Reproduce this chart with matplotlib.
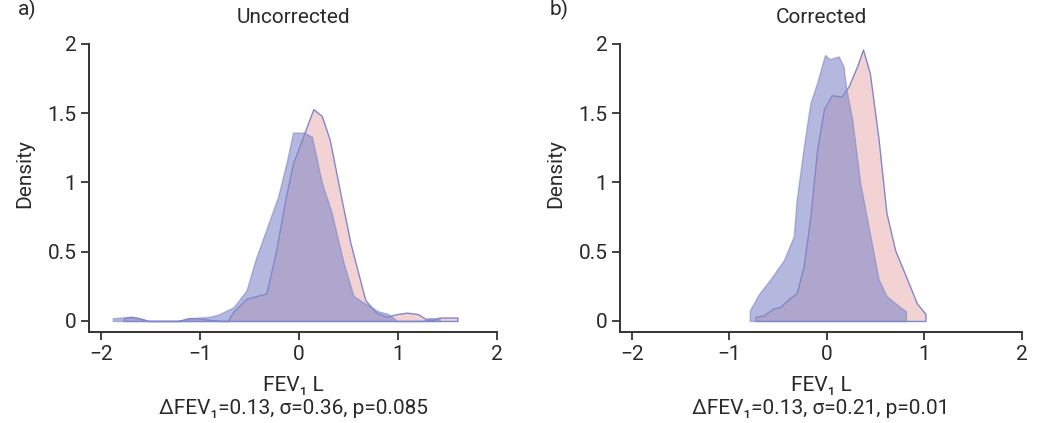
import matplotlib.pyplot as plt

# density curves (x in L, density)
unc_blue_x = [-1.88, -1.78, -1.68, -1.58, -1.52, -1.20, -1.10, -1.00, -0.90, -0.80, -0.66, -0.53,
              -0.44, -0.33, -0.21, -0.12, -0.06, 0.05, 0.13, 0.23, 0.33, 0.45, 0.55, 0.68, 0.80,
              0.90, 0.99, 1.25, 1.30, 1.42]
unc_blue_y = [0.02, 0.025, 0.03, 0.015, 0.0, 0.0, 0.02, 0.025, 0.03, 0.05, 0.10, 0.22,
              0.44, 0.66, 0.90, 1.16, 1.36, 1.36, 1.33, 1.00, 0.78, 0.42, 0.18, 0.12, 0.07,
              0.05, 0.0, 0.0, 0.02, 0.02]
unc_pink_x = [-1.77, -1.70, -1.62, -1.52, -1.22, -1.12, -1.02, -0.92, -0.80, -0.72, -0.66, -0.53,
              -0.33, -0.23, -0.14, -0.06, 0.03, 0.145, 0.23, 0.31, 0.41, 0.52, 0.67, 0.78, 0.88,
              0.99, 1.09, 1.20, 1.29, 1.36, 1.42, 1.50, 1.60]
unc_pink_y = [0.02, 0.03, 0.02, 0.0, 0.0, 0.02, 0.02, 0.01, 0.0, 0.0, 0.07, 0.16,
              0.20, 0.51, 0.87, 1.14, 1.31, 1.53, 1.48, 1.31, 0.95, 0.56, 0.15, 0.06, 0.03,
              0.05, 0.06, 0.05, 0.01, 0.01, 0.025, 0.025, 0.025]

cor_blue_x = [-0.79, -0.70, -0.58, -0.44, -0.34, -0.31, -0.24, -0.17, -0.10, -0.02, 0.03, 0.12,
              0.17, 0.20, 0.26, 0.34, 0.44, 0.53, 0.61, 0.75, 0.81]
cor_blue_y = [0.075, 0.19, 0.30, 0.44, 0.61, 0.87, 1.24, 1.57, 1.72, 1.92, 1.89, 1.91,
              1.84, 1.67, 1.45, 1.00, 0.63, 0.30, 0.18, 0.10, 0.07]
cor_pink_x = [-0.73, -0.65, -0.55, -0.48, -0.39, -0.31, -0.24, -0.17, -0.10, -0.03, 0.05, 0.15,
              0.22, 0.31, 0.37, 0.44, 0.53, 0.61, 0.70, 0.84, 0.92, 1.01]
cor_pink_y = [0.03, 0.04, 0.09, 0.10, 0.16, 0.20, 0.39, 0.75, 1.24, 1.53, 1.63, 1.62,
              1.69, 1.84, 1.96, 1.79, 1.31, 0.78, 0.51, 0.27, 0.13, 0.05]

panels = [
    ('a)', 'Uncorrected', unc_blue_x, unc_blue_y, unc_pink_x, unc_pink_y,
     '\u0394FEV\u2081=0.13, \u03c3=0.36, p=0.085'),
    ('b)', 'Corrected', cor_blue_x, cor_blue_y, cor_pink_x, cor_pink_y,
     '\u0394FEV\u2081=0.13, \u03c3=0.21, p=0.01'),
]
yticks = [0, 0.5, 1, 1.5, 2]
ytick_labels = ['0', '0.5', '1', '1.5', '2']
xticks = [-2, -1, 0, 1, 2]
xtick_labels = ['\u22122', '\u22121', '0', '1', '2']

plt.rcParams['font.family'] = ['Roboto', 'DejaVu Sans']
fs = 15

fig = plt.figure(figsize=(10.5, 4.23), dpi=100)
positions = [[0.0848, 0.215, 0.3886, 0.681], [0.5905, 0.215, 0.3829, 0.681]]

edge = '#7f88cc'
txt = '#2a2a2a'
for pos, (tag, title, bx, by, px, py, stats) in zip(positions, panels):
    ax = fig.add_axes(pos)
    ax.fill_between(px, 0, py, facecolor='#f2d2d2', edgecolor=edge, linewidth=1.0, zorder=2)
    ax.fill_between(bx, 0, by, facecolor='#8289c8', alpha=0.6, edgecolor=edge, linewidth=1.0, zorder=3)

    ax.set_xlim(-2.12, 2.0)
    ax.set_ylim(-0.08, 2.0)
    ax.set_xticks(xticks)
    ax.set_xticklabels(xtick_labels)
    ax.set_yticks(yticks)
    ax.set_yticklabels(ytick_labels)
    for s in ['top', 'right']:
        ax.spines[s].set_visible(False)
    for s in ['left', 'bottom']:
        ax.spines[s].set_linewidth(1.4)
        ax.spines[s].set_color('#333333')
    ax.tick_params(length=6, width=1.3, color='#333333', labelcolor=txt, labelsize=fs, pad=3)

    ax.set_title(title, fontsize=fs, color=txt, pad=15)
    ax.set_ylabel('Density', fontsize=fs, color=txt)
    ax.yaxis.set_label_coords(-0.135, 0.55)
    ax.set_xlabel('FEV\u2081 L\n' + stats, fontsize=fs, color=txt, linespacing=1.25, labelpad=9)
    ax.text(-0.175, 1.085, tag, transform=ax.transAxes, fontsize=fs, color=txt, va='bottom')

fig.savefig('out.png', dpi=100)
